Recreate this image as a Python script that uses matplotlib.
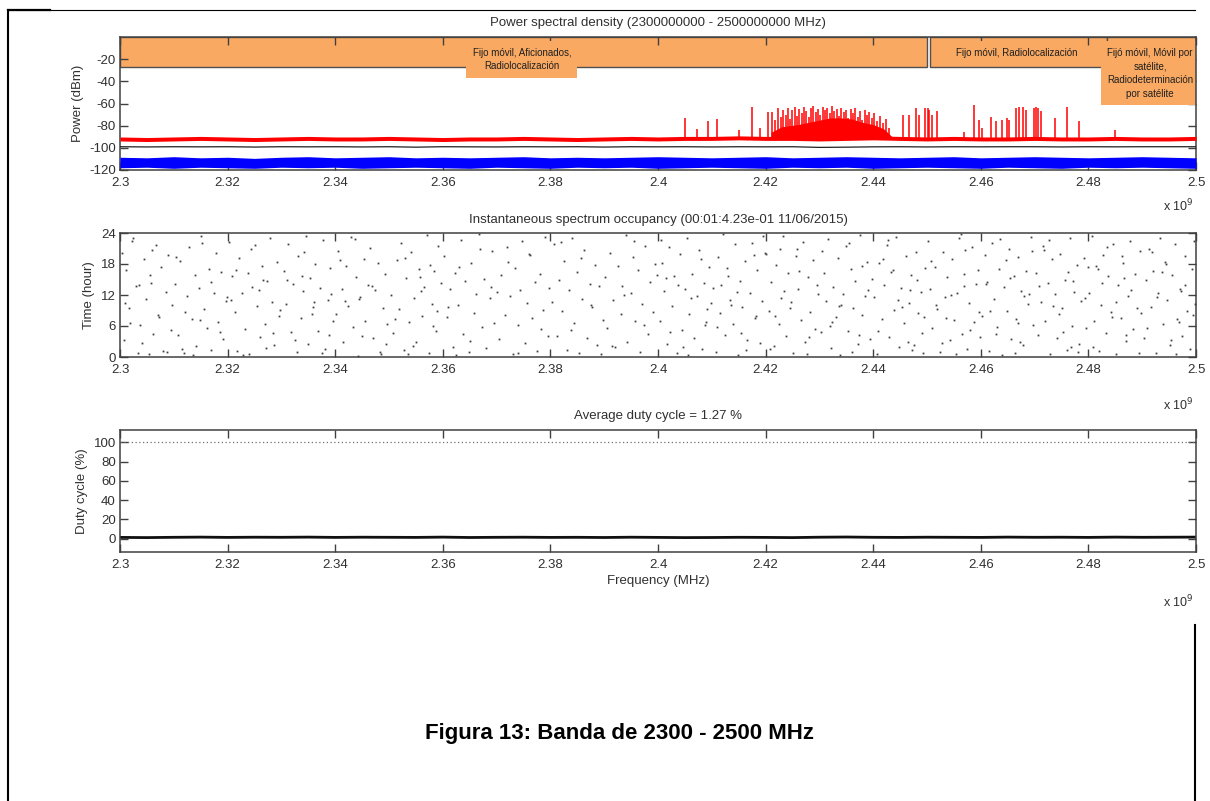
import matplotlib
matplotlib.use('Agg')
import matplotlib.pyplot as plt
from matplotlib.patches import Rectangle
from matplotlib.lines import Line2D

plt.rcParams['font.family'] = ['Liberation Sans', 'DejaVu Sans']
plt.rcParams['axes.unicode_minus'] = False

W, H = 1210, 801
TXT = '#303030'
EDGE = '#404040'
ORANGE = '#F9A962'

# ---------------- data ----------------
freq_ticks = [2.30, 2.32, 2.34, 2.36, 2.38, 2.40, 2.42, 2.44, 2.46, 2.48, 2.50]
freq_tick_labels = ['2.3', '2.32', '2.34', '2.36', '2.38', '2.4', '2.42', '2.44', '2.46', '2.48', '2.5']

psd_title = 'Power spectral density (2300000000 - 2500000000 MHz)'
occ_title = 'Instantaneous spectrum occupancy (00:01:4.23e-01 11/06/2015)'
duty_title = 'Average duty cycle = 1.27 %'

power_ticks = [-20, -40, -60, -80, -100, -120]
time_ticks = [0, 6, 12, 18, 24]
duty_ticks = [0, 20, 40, 60, 80, 100]

# band allocations (start GHz, end GHz, label)
band_start = [2.3000, 2.4505, 2.4835]
band_end = [2.4500, 2.4835, 2.5000]
band_labels = ['Fijo móvil, Aficionados,\nRadiolocalización',
               'Fijo móvil, Radiolocalización',
               'Fijó móvil, Móvil por\nsatélite,\nRadiodeterminación\npor satélite']
band_bottom = -27

grid_f = [2.300, 2.305, 2.310, 2.315, 2.320, 2.325, 2.330, 2.335, 2.340, 2.345,
          2.350, 2.355, 2.360, 2.365, 2.370, 2.375, 2.380, 2.385, 2.390, 2.395,
          2.400, 2.405, 2.410, 2.415, 2.420, 2.425, 2.430, 2.435, 2.440, 2.445,
          2.450, 2.455, 2.460, 2.465, 2.470, 2.475, 2.480, 2.485, 2.490, 2.495, 2.500]
red_max = [-92.0, -92.5, -92.0, -91.5, -92.0, -92.5, -92.0, -91.5, -92.0, -92.0,
           -91.5, -92.0, -92.5, -92.0, -92.0, -91.5, -92.0, -92.5, -92.0, -91.5,
           -92.0, -91.5, -91.5, -91.0, -91.5, -91.5, -92.0, -91.5, -91.0, -91.5,
           -92.0, -91.5, -92.0, -92.0, -91.5, -92.0, -92.0, -91.5, -92.0, -92.0, -91.5]
black_mean = [-99.0, -99.2, -99.0, -99.1, -99.0, -99.3, -99.0, -99.1, -99.0, -99.2,
              -99.0, -99.4, -99.0, -99.1, -99.2, -99.0, -99.1, -99.0, -99.3, -99.0,
              -99.1, -99.0, -99.2, -99.0, -99.1, -99.0, -99.6, -99.4, -99.1, -99.0,
              -99.2, -99.0, -99.1, -99.0, -99.0, -99.2, -99.0, -99.1, -99.0, -99.0, -99.0]
blue_upper = [-108.5, -109.0, -108.0, -109.0, -108.5, -109.5, -108.5, -108.0, -109.0, -108.5,
              -108.0, -109.0, -108.5, -109.0, -108.5, -108.0, -109.0, -108.5, -109.0, -108.5,
              -108.0, -108.5, -109.0, -108.5, -108.0, -109.0, -108.5, -108.0, -108.5, -109.0,
              -108.5, -108.0, -109.0, -108.5, -108.0, -108.5, -109.0, -108.5, -108.0, -108.5, -109.0]
blue_lower = [-118.0, -117.5, -118.5, -117.5, -118.0, -118.5, -117.5, -118.0, -117.5, -118.5,
              -118.0, -117.5, -118.0, -118.5, -117.5, -118.0, -118.5, -117.5, -118.0, -117.5,
              -118.5, -118.0, -117.5, -118.0, -118.5, -117.5, -118.0, -117.5, -118.5, -118.0,
              -117.5, -118.0, -118.5, -117.5, -118.0, -118.5, -117.5, -118.0, -117.5, -118.0, -118.5]

# hump of dense activity (max hold)
hump_f = [2.4210, 2.4230, 2.4260, 2.4280, 2.4300, 2.4320, 2.4340, 2.4360, 2.4380, 2.4400, 2.4420, 2.4435]
hump_db = [-86, -81, -79, -77, -75, -73, -73, -74, -77, -79, -83, -90]

# spikes of the max-hold trace
spike_f = [2.4050, 2.4072, 2.4093, 2.4110, 2.4150, 2.4175, 2.4190, 2.4205,
           2.4212, 2.4218, 2.4223, 2.4228, 2.4232, 2.4237, 2.4241, 2.4246, 2.4250, 2.4254,
           2.4259, 2.4263, 2.4268, 2.4272, 2.4276, 2.4281, 2.4285, 2.4289, 2.4294, 2.4298,
           2.4302, 2.4306, 2.4311, 2.4315, 2.4319, 2.4324, 2.4328, 2.4332, 2.4337, 2.4341,
           2.4345, 2.4350, 2.4354, 2.4358, 2.4363, 2.4367, 2.4372, 2.4376, 2.4380, 2.4385,
           2.4389, 2.4393, 2.4398, 2.4402, 2.4407, 2.4412, 2.4418, 2.4424, 2.4430,
           2.4455, 2.4466, 2.4479, 2.4486, 2.4496, 2.4501, 2.4504, 2.4509, 2.4519,
           2.4569, 2.4587, 2.4597, 2.4603, 2.4619, 2.4628, 2.4640, 2.4648, 2.4653,
           2.4665, 2.4671, 2.4678, 2.4684, 2.4699, 2.4702, 2.4707, 2.4712, 2.4737,
           2.4761, 2.4782, 2.4850]
spike_db = [-73, -83, -76, -74, -84, -63, -82, -68,
            -68, -75, -64, -72, -66, -70, -64, -74, -66, -63,
            -71, -65, -69, -63, -67, -72, -64, -62, -68, -65,
            -70, -63, -66, -64, -69, -62, -67, -65, -71, -64,
            -68, -66, -73, -65, -69, -64, -72, -67, -75, -66,
            -70, -68, -73, -69, -76, -71, -78, -74, -82,
            -70, -70, -64, -70, -64, -64, -66, -70, -67,
            -86, -61, -75, -82, -72, -76, -75, -73, -75,
            -64, -63, -63, -66, -64, -63, -64, -67, -73,
            -63, -76, -84]

# instantaneous occupancy points: (MHz offset from 2300, hour), per 10 MHz segment
occ_segments = [
    ([0.4, 0.7, 1.1, 1.6, 2.2, 2.9, 3.3, 3.8, 4.4, 4.9, 5.3, 5.8, 6.2, 6.7, 7.1, 7.6, 8.0, 8.5, 8.9, 9.4, 0.9, 2.5, 4.1, 5.6, 7.3, 8.7, 1.9, 3.5, 6.0, 9.7],
     [20.1, 3.2, 16.8, 9.5, 22.4, 13.7, 0.8, 6.1, 18.9, 11.2, 0.5, 14.3, 4.4, 21.6, 8.2, 17.5, 1.1, 12.6, 19.8, 5.3, 10.4, 23.1, 2.7, 15.9, 7.8, 0.9, 6.6, 13.9, 20.7, 10.1]),
    ([10.3, 10.8, 11.2, 11.9, 12.4, 12.8, 13.3, 13.9, 14.2, 14.7, 15.1, 15.6, 16.2, 16.5, 17.0, 17.4, 17.9, 18.3, 18.8, 19.2, 19.7, 10.5, 12.0, 13.6, 15.3, 16.9, 18.5, 19.9, 11.5, 14.9],
     [14.1, 4.3, 18.6, 0.7, 11.9, 21.3, 7.4, 15.8, 2.1, 13.3, 23.5, 9.2, 5.7, 17.1, 1.3, 12.4, 20.2, 6.8, 16.4, 3.5, 10.9, 19.4, 8.8, 0.4, 22.1, 14.6, 4.9, 11.7, 1.6, 7.1]),
    ([20.2, 20.9, 21.3, 21.8, 22.1, 22.6, 23.2, 23.7, 24.0, 24.6, 25.1, 25.5, 26.0, 26.4, 26.9, 27.3, 27.8, 28.2, 28.7, 29.1, 29.6, 20.6, 22.9, 24.3, 26.6, 28.5, 21.5, 25.8, 27.1, 29.8],
     [22.3, 15.6, 8.7, 1.2, 19.1, 12.3, 5.5, 16.2, 0.6, 13.5, 21.7, 9.8, 3.9, 17.6, 6.4, 14.7, 23.0, 10.6, 2.3, 18.4, 7.9, 11.1, 0.3, 20.9, 15.0, 4.7, 16.9, 13.0, 1.8, 9.1]),
    ([30.4, 30.8, 31.3, 31.7, 32.2, 32.9, 33.1, 33.6, 34.0, 34.5, 35.0, 35.4, 35.9, 36.3, 36.8, 37.2, 37.7, 38.1, 38.6, 39.0, 39.5, 31.0, 32.5, 34.2, 35.7, 37.5, 39.3, 33.9, 36.1, 38.9],
     [16.7, 10.3, 21.9, 4.8, 14.2, 0.9, 19.6, 7.6, 12.8, 23.4, 2.6, 15.3, 9.6, 18.0, 5.1, 13.4, 22.6, 1.5, 11.0, 17.3, 6.9, 14.9, 3.3, 20.4, 8.3, 0.7, 12.1, 15.7, 10.7, 4.2]),
    ([40.1, 40.6, 41.2, 41.5, 42.0, 42.4, 43.0, 43.3, 43.8, 44.2, 44.7, 45.3, 45.6, 46.1, 46.5, 47.0, 47.4, 47.9, 48.3, 48.8, 49.2, 49.7, 41.9, 43.6, 45.0, 46.8, 48.5, 40.9, 44.5, 49.5],
     [8.4, 20.6, 13.1, 2.9, 17.7, 9.9, 23.2, 5.8, 15.4, 0.2, 11.6, 19.0, 7.0, 14.0, 21.1, 3.6, 12.9, 18.2, 1.0, 9.4, 16.1, 6.3, 10.8, 22.8, 4.1, 13.8, 0.6, 18.7, 11.3, 2.5]),
    ([50.3, 50.7, 51.4, 51.8, 52.3, 52.7, 53.2, 53.8, 54.1, 54.6, 55.0, 55.5, 56.1, 56.5, 57.0, 57.4, 57.9, 58.4, 58.7, 59.2, 59.6, 51.1, 52.9, 54.4, 56.0, 57.7, 59.0, 53.5, 55.8, 58.1],
     [12.0, 4.6, 18.8, 9.3, 22.0, 1.4, 15.2, 6.7, 20.3, 11.5, 3.0, 17.0, 8.0, 13.6, 23.6, 0.8, 10.2, 16.6, 5.0, 21.4, 14.4, 7.3, 19.2, 2.2, 12.7, 17.8, 9.0, 0.5, 15.5, 6.0]),
    ([60.2, 60.8, 61.3, 61.9, 62.3, 62.8, 63.4, 63.7, 64.2, 64.9, 65.3, 65.8, 66.2, 66.7, 67.3, 67.6, 68.1, 68.7, 69.2, 69.6, 61.0, 63.0, 65.1, 67.0, 68.9, 62.5],
     [19.5, 7.7, 13.2, 2.0, 16.3, 10.0, 22.7, 4.5, 14.8, 0.9, 18.1, 8.6, 12.2, 23.9, 5.9, 15.1, 1.7, 11.4, 20.5, 6.5, 9.7, 17.4, 3.1, 21.0, 13.5, 0.4]),
    ([70.4, 70.9, 71.5, 71.9, 72.5, 73.0, 73.4, 73.9, 74.4, 74.8, 75.2, 75.7, 76.3, 76.6, 77.2, 77.5, 78.0, 78.6, 79.0, 79.5, 70.1, 72.2, 74.0, 76.0, 78.3, 79.8],
     [3.4, 15.9, 8.1, 21.2, 11.8, 0.6, 17.2, 6.2, 13.0, 22.5, 2.8, 10.5, 19.7, 7.5, 14.5, 1.2, 16.0, 9.1, 23.3, 4.0, 12.5, 18.3, 0.8, 20.0, 5.4, 13.3]),
    ([80.3, 80.7, 81.2, 81.6, 82.1, 82.6, 83.1, 83.5, 84.1, 84.4, 85.0, 85.4, 85.9, 86.3, 86.8, 87.3, 87.7, 88.2, 88.6, 89.1, 89.7, 81.9, 83.8, 85.6, 87.5, 89.4],
     [10.6, 21.8, 4.1, 15.0, 8.9, 18.5, 1.3, 12.9, 23.0, 6.6, 16.4, 0.7, 11.2, 20.8, 3.7, 14.1, 9.6, 17.9, 2.4, 13.7, 7.2, 22.2, 5.2, 19.1, 10.0, 0.5]),
    ([90.2, 90.6, 91.1, 91.7, 92.0, 92.5, 93.1, 93.4, 94.0, 94.3, 94.9, 95.3, 95.8, 96.2, 96.7, 97.1, 97.6, 98.1, 98.5, 99.0, 99.5, 91.4, 93.7, 95.5, 97.4, 99.8],
     [15.4, 5.6, 20.1, 11.0, 1.9, 17.6, 8.3, 13.8, 23.7, 3.0, 12.4, 19.3, 6.9, 16.8, 0.9, 10.3, 21.5, 4.4, 14.6, 8.7, 18.0, 2.2, 12.0, 22.4, 6.1, 15.8]),
    ([100.3, 100.8, 101.2, 101.7, 102.1, 102.6, 103.0, 103.5, 104.1, 104.4, 105.0, 105.3, 105.8, 106.4, 106.7, 107.2, 107.6, 108.1, 108.5, 109.0, 109.5, 109.9, 100.5, 102.3, 103.8, 105.6, 107.9, 109.2, 101.5, 104.7, 106.1, 108.8],
     [7.0, 18.2, 12.7, 2.5, 21.3, 9.8, 15.6, 0.8, 19.9, 5.3, 13.1, 23.1, 8.4, 16.0, 3.6, 11.8, 20.7, 1.5, 14.3, 6.8, 17.5, 10.4, 22.6, 4.8, 13.9, 0.4, 19.0, 9.2, 15.2, 2.0, 11.5, 6.1]),
    ([110.2, 110.7, 111.1, 111.6, 112.1, 112.5, 113.0, 113.4, 113.9, 114.3, 114.8, 115.2, 115.7, 116.1, 116.6, 117.1, 117.5, 118.0, 118.4, 118.9, 119.3, 119.8, 110.9, 112.8, 114.6, 116.4, 118.2, 119.6, 111.8, 115.5, 117.8, 113.6],
     [13.4, 1.0, 19.4, 8.5, 23.8, 4.2, 15.7, 11.1, 6.4, 21.9, 0.3, 14.8, 9.7, 18.6, 3.3, 12.3, 22.0, 7.6, 16.9, 2.7, 10.8, 20.2, 5.9, 17.2, 12.6, 1.4, 8.0, 23.4, 14.0, 4.6, 19.8, 10.1]),
    ([120.1, 120.6, 121.0, 121.5, 122.0, 122.4, 122.9, 123.3, 123.8, 124.2, 124.7, 125.1, 125.6, 126.0, 126.5, 127.0, 127.4, 127.9, 128.3, 128.8, 129.2, 129.7, 120.8, 122.7, 124.5, 126.3, 128.0, 129.5, 121.7, 125.9, 127.7, 123.5],
     [20.0, 9.0, 14.5, 2.1, 17.9, 6.3, 11.4, 23.5, 4.0, 16.2, 10.6, 0.7, 19.6, 13.2, 7.2, 22.3, 2.9, 15.4, 8.8, 18.8, 5.5, 12.1, 1.6, 21.0, 9.5, 16.6, 3.8, 13.9, 7.9, 20.9, 0.5, 12.8]),
    ([130.3, 130.8, 131.2, 131.6, 132.1, 132.6, 133.1, 133.5, 133.9, 134.4, 134.9, 135.3, 135.8, 136.2, 136.7, 137.1, 137.6, 138.0, 138.5, 138.9, 139.4, 139.8, 130.5, 132.4, 134.1, 136.0, 137.9, 139.1, 131.9, 135.5, 137.3, 133.7],
     [4.9, 16.3, 10.9, 22.9, 1.8, 13.6, 7.8, 19.2, 0.4, 12.2, 21.4, 5.1, 17.1, 9.4, 14.7, 2.6, 23.6, 8.2, 11.9, 18.4, 3.5, 15.1, 20.6, 6.7, 10.0, 0.9, 17.7, 13.0, 6.0, 22.1, 4.3, 9.9]),
    ([140.2, 140.7, 141.1, 141.6, 142.0, 142.5, 143.0, 143.4, 143.9, 144.3, 144.8, 145.2, 145.7, 146.1, 146.6, 147.0, 147.5, 147.9, 148.4, 148.8, 149.3, 149.7, 140.9, 142.8, 144.6, 146.4, 148.1, 149.5, 141.8, 145.4, 147.2, 143.6, 146.9, 149.0],
     [11.6, 0.6, 18.1, 7.4, 14.0, 21.7, 3.9, 16.5, 9.1, 23.2, 1.9, 13.3, 6.5, 19.5, 10.4, 15.9, 2.4, 20.4, 8.6, 12.5, 0.8, 17.3, 5.0, 22.7, 11.1, 3.0, 14.9, 7.7, 19.0, 9.6, 1.3, 16.8, 12.9, 4.7]),
    ([150.1, 150.6, 151.0, 151.5, 151.9, 152.4, 152.9, 153.3, 153.8, 154.2, 154.7, 155.1, 155.6, 156.0, 156.5, 156.9, 157.4, 157.8, 158.3, 158.7, 159.2, 159.6, 150.8, 152.7, 154.5, 156.3, 158.0, 159.4, 151.7, 155.3, 157.1, 153.5, 156.8, 159.9],
     [22.4, 13.1, 5.6, 17.4, 9.3, 0.9, 20.3, 11.7, 15.5, 3.2, 19.0, 7.1, 12.4, 23.0, 4.4, 16.1, 1.5, 10.5, 21.2, 6.8, 14.2, 8.7, 18.5, 2.7, 12.0, 23.8, 5.3, 16.9, 10.0, 0.5, 20.8, 7.5, 13.8, 3.9]),
    ([160.3, 160.7, 161.2, 161.6, 162.1, 162.5, 163.0, 163.4, 163.9, 164.3, 164.8, 165.2, 165.7, 166.1, 166.6, 167.0, 167.5, 167.9, 168.4, 168.8, 169.3, 169.7, 160.9, 162.8, 164.6, 166.4, 168.1, 169.5, 161.8, 165.4, 167.2, 163.6, 166.9, 169.0],
     [8.0, 19.7, 14.6, 1.1, 22.0, 11.3, 5.8, 17.0, 0.4, 13.5, 9.0, 21.0, 3.4, 15.7, 7.3, 19.3, 12.7, 2.3, 16.6, 10.2, 23.3, 6.2, 14.1, 4.5, 18.7, 0.8, 11.8, 20.5, 8.9, 15.3, 2.9, 22.8, 6.6, 12.1]),
    ([170.2, 170.6, 171.1, 171.5, 172.0, 172.4, 172.9, 173.3, 173.8, 174.2, 174.7, 175.1, 175.6, 176.0, 176.5, 176.9, 177.4, 177.8, 178.3, 178.7, 179.2, 179.6, 170.9, 172.7, 174.5, 176.3, 178.0, 179.4, 171.8, 175.3, 177.1, 173.5, 176.7, 179.9],
     [16.2, 4.2, 10.7, 21.5, 7.0, 14.4, 0.6, 18.9, 12.1, 3.7, 20.0, 9.5, 15.0, 1.4, 23.1, 6.0, 12.6, 17.8, 2.5, 10.9, 19.1, 5.7, 13.7, 22.6, 8.3, 16.4, 0.9, 11.4, 20.7, 4.9, 14.8, 9.8, 1.9, 17.5]),
    ([180.1, 180.6, 181.0, 181.5, 181.9, 182.4, 182.8, 183.3, 183.7, 184.2, 184.6, 185.1, 185.5, 186.0, 186.4, 186.9, 187.3, 187.8, 188.2, 188.7, 189.1, 189.6, 180.8, 182.6, 184.4, 186.2, 187.9, 189.4, 181.7, 185.2, 187.0, 183.5, 186.7, 189.8],
     [12.4, 23.4, 6.9, 17.6, 1.2, 10.1, 19.8, 4.7, 15.6, 8.8, 21.9, 0.5, 13.9, 7.6, 18.2, 3.1, 11.9, 22.4, 5.5, 16.0, 9.4, 20.6, 2.0, 14.3, 7.8, 19.5, 12.9, 0.7, 17.0, 10.6, 4.3, 21.3, 15.2, 8.5]),
    ([190.3, 190.7, 191.2, 191.6, 192.0, 192.5, 192.9, 193.4, 193.8, 194.3, 194.7, 195.2, 195.6, 196.1, 196.5, 197.0, 197.4, 197.9, 198.3, 198.8, 199.2, 199.6, 190.9, 192.7, 194.5, 196.3, 198.0, 199.4, 191.8, 195.4, 197.2, 193.6, 196.8, 199.8],
     [3.6, 14.9, 20.9, 9.7, 16.7, 0.8, 12.3, 23.0, 6.3, 18.3, 11.0, 2.4, 15.8, 21.8, 7.4, 13.2, 4.1, 19.6, 9.0, 1.5, 17.1, 22.5, 5.7, 11.6, 18.0, 0.6, 14.0, 8.1, 20.3, 3.3, 12.8, 16.4, 6.8, 10.3]),
]

duty_cycle = [1.2, 1.0, 1.3, 1.5, 1.2, 1.4, 1.3, 1.5, 1.2, 1.4,
              1.3, 1.2, 1.5, 1.1, 1.3, 1.4, 1.2, 1.3, 1.1, 1.4,
              1.2, 1.0, 1.1, 1.3, 1.2, 1.0, 1.4, 1.6, 1.3, 1.2,
              1.4, 1.3, 1.2, 1.5, 1.3, 1.4, 1.2, 1.5, 1.3, 1.4, 1.5]
duty_ref = 100

caption = 'Figura 13: Banda de 2300 - 2500 MHz'

# ---------------- figure ----------------
fig = plt.figure(figsize=(W / 100, H / 100), dpi=100)


def px_rect(l, t, r, b):
    return [l / W, 1 - b / H, (r - l) / W, (b - t) / H]


def style(ax):
    for s in ax.spines.values():
        s.set_color(EDGE)
        s.set_linewidth(1.1)
    ax.tick_params(direction='in', top=True, right=True, length=6, width=1.0,
                   color=EDGE, labelcolor=TXT, labelsize=9.5)
    ax.tick_params(axis='x', pad=5)
    ax.tick_params(axis='y', pad=3)
    ax.set_xlim(2.3, 2.5)
    ax.set_xticks(freq_ticks)
    ax.set_xticklabels(freq_tick_labels)


def sci_label(ax, dy):
    ax.annotate('x 10$^9$', xy=(1, 0), xycoords='axes fraction', xytext=(-2, dy),
                textcoords='offset pixels', ha='right', va='center', fontsize=9, color=TXT)


# Panel 1
ax1 = fig.add_axes(px_rect(120, 37, 1196, 170))
style(ax1)
ax1.set_ylim(-120, 0)
ax1.set_yticks(power_ticks)
ax1.set_ylabel('Power (dBm)', fontsize=9.5, color=TXT, labelpad=4)
ax1.set_title(psd_title, fontsize=9.5, color=TXT, pad=8)

for s0, s1 in zip(band_start, band_end):
    ax1.add_patch(Rectangle((s0, band_bottom), s1 - s0, -band_bottom, facecolor=ORANGE,
                            edgecolor='#505050', linewidth=1.0, zorder=1))
for s0, s1, lab in zip(band_start, band_end, band_labels):
    ax1.text((s0 + s1) / 2 - 0.0003, -9.5, lab, ha='center', va='top', fontsize=7.0,
             linespacing=1.48, color='#202020', zorder=2, clip_on=True,
             bbox=dict(facecolor=ORANGE, edgecolor='none', pad=4.5))

ax1.fill_between(grid_f, blue_lower, blue_upper, color='#0000FF', lw=0, zorder=3)
ax1.plot(grid_f, black_mean, color='#202020', lw=0.9, zorder=3)
ax1.fill_between(grid_f, [v - 1.8 for v in red_max], [v + 1.8 for v in red_max],
                 color='#FF0000', lw=0, zorder=4)
ax1.fill_between(hump_f, [-92] * len(hump_f), hump_db, color='#FF0000', lw=0, zorder=4)
ax1.vlines(spike_f, -92, spike_db, color='#FF0000', lw=1.1, zorder=4)
sci_label(ax1, -36)

# Panel 2
ax2 = fig.add_axes(px_rect(120, 233, 1196, 357))
style(ax2)
ax2.set_ylim(0, 24)
ax2.set_yticks(time_ticks)
ax2.set_ylabel('Time (hour)', fontsize=9.5, color=TXT, labelpad=4)
ax2.set_title(occ_title, fontsize=9.5, color=TXT, pad=7)
occ_x, occ_y = [], []
for fl, tl in occ_segments:
    for f, t in zip(fl, tl):
        occ_x.append(2.3 + f / 1000.0)
        occ_y.append(t)
ax2.plot(occ_x, occ_y, linestyle='none', marker='s', markersize=1.3,
         markeredgewidth=0, color='#404040')
sci_label(ax2, -48)

# Panel 3
ax3 = fig.add_axes(px_rect(120, 430, 1196, 552))
style(ax3)
ax3.set_ylim(-14, 113)
ax3.set_yticks(duty_ticks)
ax3.set_ylabel('Duty cycle (%)', fontsize=9.5, color=TXT, labelpad=4)
ax3.set_title(duty_title, fontsize=9.5, color=TXT, pad=8)
ax3.set_xlabel('Frequency (MHz)', fontsize=9.5, color=TXT, labelpad=3)
ax3.axhline(duty_ref, color='#707070', lw=0.9, ls=(0, (1, 2)))
ax3.plot(grid_f, duty_cycle, color='#101010', lw=2.0)
sci_label(ax3, -50)

# caption
fig.text(619 / W, 1 - 733 / H, caption, ha='center', va='center', fontsize=16,
         fontweight='bold', color='black')

# page border lines
fig.add_artist(Line2D([8 / W, 8 / W], [1 - 10 / H, 0], color='black', lw=1.5))
fig.add_artist(Line2D([8 / W, 1195 / W], [1 - 10 / H, 1 - 10 / H], color='black', lw=0.8))
fig.add_artist(Line2D([8 / W, 50 / W], [1 - 10 / H, 1 - 10 / H], color='black', lw=1.6))
fig.add_artist(Line2D([1195 / W, 1195 / W], [1 - 625 / H, 0], color='black', lw=1.5))

fig.savefig('out.png', dpi=100)
